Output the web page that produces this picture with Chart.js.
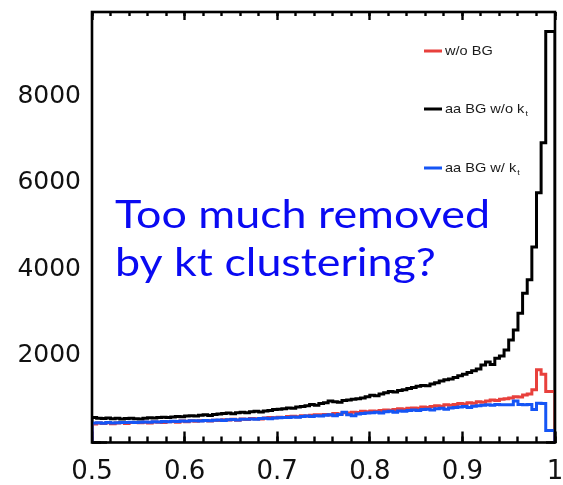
<!DOCTYPE html>
<html><head><meta charset="utf-8">
<script src="https://cdn.jsdelivr.net/npm/chart.js@4/dist/chart.umd.min.js"></script>
<style>html,body{margin:0;padding:0;background:#fff;overflow:hidden}#wrap{width:563px;height:485px;position:relative}</style>
</head><body><div id="wrap"><canvas id="c" width="563" height="485"></canvas></div>
<script>
// Histogram binning (x axis): 100 bins of width 0.005 from 0.5 to 1.0
const binLow = 0.5;
const binWidth = 0.005;

// Tick labels
const xTickValues = [0.5, 0.6, 0.7, 0.8, 0.9, 1.0];
const xTickLabels = ['0.5', '0.6', '0.7', '0.8', '0.9', '1'];
const yTickValues = [2000, 4000, 6000, 8000];
const yTickLabels = ['2000', '4000', '6000', '8000'];

// Series names
const seriesNames = ['w/o BG', 'aa BG w/o k', 'aa BG w/ k'];
const seriesSubscripts = ['', 't', 't'];

// Series values (counts per bin)
const noBG = [
  420, 430, 450, 440, 455, 435, 450, 460, 440, 465,
  460, 455, 470, 450, 475, 470, 460, 480, 485, 470,
  495, 480, 500, 490, 505, 510, 495, 515, 510, 525,
  520, 535, 515, 545, 530, 555, 550, 545, 565, 575,
  570, 585, 580, 600, 605, 595, 620, 615, 630, 640,
  640, 650, 635, 670, 660, 690, 680, 700, 695, 720,
  710, 730, 720, 740, 750, 745, 760, 780, 770, 790,
  800, 790, 820, 810, 830, 850, 840, 870, 860, 880,
  900, 890, 920, 910, 940, 930, 960, 980, 970, 1000,
  1010, 1030, 1060, 1050, 1100, 1120, 1220, 1680, 1580, 1180
];
const bgNoKt = [
  560, 575, 560, 555, 565, 550, 560, 545, 555, 560,
  550, 545, 560, 570, 565, 575, 585, 580, 590, 600,
  595, 610, 620, 615, 630, 640, 625, 650, 660, 670,
  680, 665, 690, 700, 690, 710, 720, 705, 730, 740,
  760, 770, 780, 800, 790, 820, 830, 850, 880, 860,
  900, 920, 960, 940, 930, 970, 980, 1000, 1010, 1030,
  1060, 1090, 1080, 1120, 1150, 1180, 1170, 1200, 1220, 1250,
  1270, 1300, 1320, 1310, 1350, 1380, 1420, 1450, 1470, 1500,
  1540, 1580, 1620, 1660, 1700, 1790, 1860, 1800, 1950, 2000,
  2140, 2370, 2600, 2990, 3450, 3760, 4520, 5770, 6930, 9500
];
const bgKt = [
  440, 450, 455, 445, 460, 450, 455, 465, 460, 470,
  465, 470, 475, 470, 480, 475, 485, 480, 490, 485,
  495, 490, 500, 505, 495, 510, 505, 515, 520, 510,
  525, 530, 520, 540, 535, 545, 540, 555, 560, 550,
  565, 570, 580, 575, 590, 585, 600, 610, 600, 620,
  610, 630, 640, 620, 650, 700, 640, 620, 660, 670,
  680, 690, 700, 680, 710, 720, 700, 730, 720, 740,
  750, 740, 760, 770, 750, 780, 790, 770, 800, 810,
  820, 830, 810, 840, 850, 860, 870, 860, 880, 870,
  870, 870, 960, 880, 870, 880, 760, 910, 900, 280
];

const seriesColors = ['#e8403c', '#000000', '#1555f5'];

// Axis ranges and tick spacing
const X_MIN = 0.5, X_MAX = 1.0;
const Y_MIN = 0, Y_MAX = 9950;
const xMajorStep = 0.1, xMinorStep = 0.02;
const yMajorStep = 2000, yMinorStep = 400;

function histPoints(vals) {
  const pts = [{x: binLow, y: 0}];
  vals.forEach((v, i) => pts.push({x: binLow + i * binWidth, y: v}));
  const hi = binLow + vals.length * binWidth;
  pts.push({x: hi, y: vals[vals.length - 1]});
  pts.push({x: hi, y: 0});
  return pts;
}

// Axis with inward ticks only (negative tick length), no labels, no size
function tickAxis(position, isX, step, len) {
  const isOnStep = (v) => {
    const r = v / step;
    return Math.abs(r - Math.round(r)) < 1e-6;
  };
  return {
    type: 'linear',
    position: position,
    axis: isX ? 'x' : 'y',
    min: isX ? X_MIN : Y_MIN,
    max: isX ? X_MAX : Y_MAX,
    border: {display: false},
    grid: {
      display: true,
      drawOnChartArea: false,
      drawTicks: true,
      tickLength: -len,
      lineWidth: 1,
      tickWidth: 2.4,
      tickColor: (c) => (c.tick && isOnStep(c.tick.value)) ? '#000000' : 'rgba(0,0,0,0)'
    },
    ticks: {display: false, stepSize: step, maxTicksLimit: 1000, autoSkip: false},
    afterFit(s) { if (isX) { s.height = 0; } else { s.width = 0; } }
  };
}

const framePlugin = {
  id: 'frameAndText',
  afterDraw(chart) {
    const ctx = chart.ctx, a = chart.chartArea;
    const xs = chart.scales.x, ys = chart.scales.y;
    const L = a.left, R = a.right, T = a.top, B = a.bottom;
    ctx.save();
    ctx.strokeStyle = '#000000';
    ctx.lineWidth = 2.6;
    ctx.strokeRect(L, T, R - L, B - T);

    // legend
    const legY = [51, 109, 168];
    chart.data.datasets.forEach((ds, i) => {
      const y = legY[i];
      ctx.fillStyle = ds.borderColor;
      ctx.fillRect(424, y - 1.5, 18, 3);
      ctx.fillStyle = '#1a1a1a';
      ctx.font = '13px "Liberation Sans", Arial, sans-serif';
      ctx.textBaseline = 'middle';
      ctx.textAlign = 'left';
      ctx.save();
      ctx.translate(445, y);
      ctx.scale(1.12, 1);
      ctx.fillText(ds.label, 0, 0);
      const w = ctx.measureText(ds.label).width;
      if (seriesSubscripts[i]) {
        ctx.font = '8px "Liberation Sans", Arial, sans-serif';
        ctx.fillText(seriesSubscripts[i], w + 1, 5);
      }
      ctx.restore();
    });

    // annotation
    ctx.fillStyle = '#0a0af2';
    ctx.font = '38px Lato, "Open Sans", sans-serif';
    ctx.textBaseline = 'alphabetic';
    ctx.textAlign = 'left';
    const line1 = 'Too much removed', line2 = 'by kt clustering?';
    const sx = 375 / ctx.measureText(line1).width;
    ctx.save();
    ctx.translate(115, 0);
    ctx.scale(sx, 1);
    ctx.fillText(line1, 0, 228);
    ctx.fillText(line2, 0, 276);
    ctx.restore();

    // tick labels
    ctx.fillStyle = '#111';
    ctx.font = '25px "DejaVu Sans", sans-serif';
    ctx.textAlign = 'right';
    ctx.textBaseline = 'middle';
    yTickValues.forEach((v, i) => ctx.fillText(yTickLabels[i], 81, ys.getPixelForValue(v)));
    ctx.font = '26px "DejaVu Sans", sans-serif';
    ctx.textAlign = 'center';
    ctx.textBaseline = 'alphabetic';
    xTickValues.forEach((v, i) => ctx.fillText(xTickLabels[i], xs.getPixelForValue(v), 479));
    ctx.restore();
  }
};

new Chart(document.getElementById('c'), {
  type: 'line',
  data: {
    datasets: [
      {label: seriesNames[0], data: histPoints(noBG), borderColor: seriesColors[0], order: 1},
      {label: seriesNames[1], data: histPoints(bgNoKt), borderColor: seriesColors[1], order: 2},
      {label: seriesNames[2], data: histPoints(bgKt), borderColor: seriesColors[2], order: 0}
    ].map(d => Object.assign(d, {stepped: 'after', borderWidth: 3, pointRadius: 0, fill: false, tension: 0, xAxisID: 'x', yAxisID: 'y'}))
  },
  options: {
    responsive: false,
    animation: false,
    layout: {padding: {left: 92, right: 8, top: 12, bottom: 42.5}},
    plugins: {legend: {display: false}, tooltip: {enabled: false}, title: {display: false}},
    scales: {
      x: tickAxis('bottom', true, xMajorStep, 11),
      xMinor: tickAxis('bottom', true, xMinorStep, 6),
      xTop: tickAxis('top', true, xMajorStep, 8),
      xTopMinor: tickAxis('top', true, xMinorStep, 4),
      y: tickAxis('left', false, yMajorStep, 15),
      yMinor: tickAxis('left', false, yMinorStep, 9),
      yRight: tickAxis('right', false, yMajorStep, 9),
      yRightMinor: tickAxis('right', false, yMinorStep, 5)
    }
  },
  plugins: [framePlugin]
});
</script>
</body></html>
